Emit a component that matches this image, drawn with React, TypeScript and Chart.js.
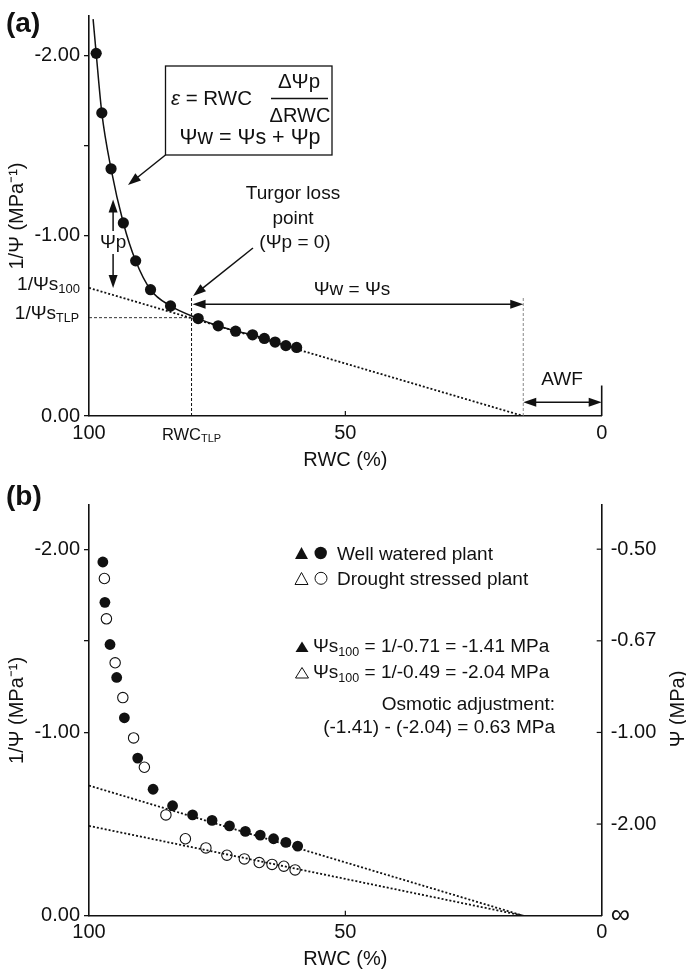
import React, { useEffect, useRef } from 'react';
import { Chart, registerables } from 'chart.js';

Chart.register(...registerables);

const FAMILY = '"Liberation Sans", Arial, Helvetica, sans-serif';
const INK = '#111111';

// ---------- Panel (a): pressure–volume curve ----------
const A_RWC = [98.6, 97.5, 95.7, 93.3, 90.9, 88.0, 84.1, 78.7, 74.8, 71.4, 68.1, 65.8, 63.7, 61.6, 59.5];
const A_INV_PSI = [-2.01, -1.68, -1.37, -1.07, -0.86, -0.70, -0.61, -0.54, -0.5, -0.47, -0.45, -0.43, -0.41, -0.39, -0.38];
const A_CURVE_START_RWC = 99.2;
const A_CURVE_START_INV = -2.2;
const A_TLP_RWC = 80.0;
const A_TLP_INV = -0.545;
const A_INV_S100 = -0.71;
const X_INTERCEPT = 15.3;

// ---------- Panel (b): well watered vs drought stressed ----------
const WW_RWC = [97.3, 96.9, 95.9, 94.6, 93.1, 90.5, 87.5, 83.7, 79.8, 76.0, 72.6, 69.5, 66.6, 64.0, 61.6, 59.3];
const WW_INV = [-1.93, -1.71, -1.48, -1.3, -1.08, -0.86, -0.69, -0.6, -0.55, -0.52, -0.49, -0.46, -0.44, -0.42, -0.4, -0.38];
const DS_RWC = [97.0, 96.6, 94.9, 93.4, 91.3, 89.2, 85.0, 81.2, 77.2, 73.1, 69.7, 66.8, 64.3, 62.0, 59.8];
const DS_INV = [-1.84, -1.62, -1.38, -1.19, -0.97, -0.81, -0.55, -0.42, -0.37, -0.33, -0.31, -0.29, -0.28, -0.27, -0.25];
const WW_INV_S100 = -0.71;
const DS_INV_S100 = -0.49;
const TRIANGLE_RWC = 102.3;

// ---------- ticks ----------
const X_TICKS = [100, 50, 0];
const A_Y_TICKS = [-2, -1.5, -1, 0];
const B_Y_TICKS = [-2, -1.5, -1, 0];
const B_Y2_TICKS = [-2, -1.5, -1, -0.5, 0];

const TICK_SIZE = 20;
const TEXT_SIZE = 19;

type Seg = { t: string; sub?: boolean; italic?: boolean };

function rich(
  ctx: CanvasRenderingContext2D,
  segs: Seg[],
  x: number,
  y: number,
  align: 'left' | 'center' | 'right',
  size: number,
  subSize: number,
  subDy: number
) {
  ctx.save();
  ctx.fillStyle = INK;
  ctx.textBaseline = 'alphabetic';
  ctx.textAlign = 'left';
  const fontOf = (s: Seg) => `${s.italic ? 'italic ' : ''}${s.sub ? subSize : size}px ${FAMILY}`;
  const ws = segs.map((s) => {
    ctx.font = fontOf(s);
    return ctx.measureText(s.t).width;
  });
  const total = ws.reduce((a, b) => a + b, 0);
  let cx = align === 'left' ? x : align === 'center' ? x - total / 2 : x - total;
  segs.forEach((s, i) => {
    ctx.font = fontOf(s);
    ctx.fillText(s.t, cx, y + (s.sub ? subDy : 0));
    cx += ws[i];
  });
  ctx.restore();
}

function text(
  ctx: CanvasRenderingContext2D,
  s: string,
  x: number,
  y: number,
  align: CanvasTextAlign,
  size: number,
  bold = false
) {
  ctx.save();
  ctx.fillStyle = INK;
  ctx.font = `${bold ? 'bold ' : ''}${size}px ${FAMILY}`;
  ctx.textAlign = align;
  ctx.textBaseline = 'alphabetic';
  ctx.fillText(s, x, y);
  ctx.restore();
}

function head(ctx: CanvasRenderingContext2D, tx: number, ty: number, fx: number, fy: number, len: number, half: number) {
  const a = Math.atan2(ty - fy, tx - fx);
  ctx.beginPath();
  ctx.moveTo(tx, ty);
  ctx.lineTo(tx - len * Math.cos(a) + half * Math.sin(a), ty - len * Math.sin(a) - half * Math.cos(a));
  ctx.lineTo(tx - len * Math.cos(a) - half * Math.sin(a), ty - len * Math.sin(a) + half * Math.cos(a));
  ctx.closePath();
  ctx.fill();
}

function arrow(
  ctx: CanvasRenderingContext2D,
  x1: number,
  y1: number,
  x2: number,
  y2: number,
  both = false,
  len = 13,
  half = 4.5,
  width = 1.5
) {
  ctx.save();
  ctx.strokeStyle = INK;
  ctx.fillStyle = INK;
  ctx.lineWidth = width;
  ctx.setLineDash([]);
  const a = Math.atan2(y2 - y1, x2 - x1);
  const sx = both ? x1 + (len - 3) * Math.cos(a) : x1;
  const sy = both ? y1 + (len - 3) * Math.sin(a) : y1;
  ctx.beginPath();
  ctx.moveTo(sx, sy);
  ctx.lineTo(x2 - (len - 3) * Math.cos(a), y2 - (len - 3) * Math.sin(a));
  ctx.stroke();
  head(ctx, x2, y2, x1, y1, len, half);
  if (both) head(ctx, x1, y1, x2, y2, len, half);
  ctx.restore();
}

function line(
  ctx: CanvasRenderingContext2D,
  x1: number,
  y1: number,
  x2: number,
  y2: number,
  dash: number[],
  color: string,
  width: number
) {
  ctx.save();
  ctx.strokeStyle = color;
  ctx.lineWidth = width;
  ctx.setLineDash(dash);
  ctx.beginPath();
  ctx.moveTo(x1, y1);
  ctx.lineTo(x2, y2);
  ctx.stroke();
  ctx.restore();
}

function triangle(ctx: CanvasRenderingContext2D, cx: number, top: number, w: number, h: number, filled: boolean) {
  ctx.save();
  ctx.beginPath();
  ctx.moveTo(cx, top);
  ctx.lineTo(cx + w / 2, top + h);
  ctx.lineTo(cx - w / 2, top + h);
  ctx.closePath();
  if (filled) {
    ctx.fillStyle = INK;
    ctx.fill();
  } else {
    ctx.strokeStyle = INK;
    ctx.lineWidth = 1;
    ctx.stroke();
  }
  ctx.restore();
}

function circle(ctx: CanvasRenderingContext2D, cx: number, cy: number, r: number, filled: boolean) {
  ctx.save();
  ctx.beginPath();
  ctx.arc(cx, cy, r, 0, Math.PI * 2);
  if (filled) {
    ctx.fillStyle = INK;
    ctx.fill();
  } else {
    ctx.strokeStyle = INK;
    ctx.lineWidth = 1;
    ctx.stroke();
  }
  ctx.restore();
}

const fmtLeft = (v: number | string) => {
  const n = Number(v);
  if (Math.abs(n + 1.5) < 1e-9) return '';
  return (Math.abs(n) < 1e-9 ? 0 : n).toFixed(2);
};

function yScale(min: number, ticks: number[], titlePad: number) {
  return {
    type: 'linear' as const,
    position: 'left' as const,
    min,
    max: 0,
    reverse: true,
    afterBuildTicks: (s: any) => {
      s.ticks = ticks.map((value) => ({ value }));
    },
    afterFit: (s: any) => {
      s.width = 89;
    },
    ticks: {
      callback: fmtLeft,
      color: INK,
      font: { family: FAMILY, size: TICK_SIZE },
      padding: 4,
      autoSkip: false,
    },
    grid: { display: true, drawOnChartArea: false, drawTicks: true, tickLength: 5, color: INK, lineWidth: 1.3 },
    border: { display: true, color: INK, width: 1.6 },
    title: {
      display: true,
      text: '1/Ψ (MPa⁻¹)',
      color: INK,
      font: { family: FAMILY, size: TICK_SIZE },
      padding: { top: titlePad, bottom: 0 },
    },
  };
}

function xScale(height: number, labelPad: number, titlePad: number) {
  return {
    type: 'linear' as const,
    min: 0,
    max: 100,
    reverse: true,
    afterBuildTicks: (s: any) => {
      s.ticks = X_TICKS.map((value) => ({ value }));
    },
    afterFit: (s: any) => {
      s.height = height;
    },
    ticks: {
      callback: (v: number | string) => String(v),
      color: INK,
      font: { family: FAMILY, size: TICK_SIZE },
      padding: labelPad,
      maxRotation: 0,
      autoSkip: false,
    },
    grid: { display: true, drawOnChartArea: false, drawTicks: false, color: INK },
    border: { display: true, color: INK, width: 1.6 },
    title: {
      display: true,
      text: 'RWC (%)',
      color: INK,
      font: { family: FAMILY, size: TICK_SIZE },
      padding: { top: 0, bottom: titlePad },
    },
  };
}

const annotA = {
  id: 'annotA',
  beforeDatasetsDraw(chart: any) {
    const ctx = chart.ctx as CanvasRenderingContext2D;
    const X = (v: number) => chart.scales.x.getPixelForValue(v);
    const Y = (v: number) => chart.scales.y.getPixelForValue(v);
    line(ctx, X(100), Y(A_TLP_INV), X(A_TLP_RWC), Y(A_TLP_INV), [3, 2], '#333', 1);
    line(ctx, X(A_TLP_RWC), Y(0), X(A_TLP_RWC), Y(-0.66), [3, 2], INK, 1);
    line(ctx, X(X_INTERCEPT), Y(0), X(X_INTERCEPT), Y(-0.66), [3, 2], '#888', 1);
  },
  afterDraw(chart: any) {
    const ctx = chart.ctx as CanvasRenderingContext2D;
    const X = (v: number) => chart.scales.x.getPixelForValue(v);
    const Y = (v: number) => chart.scales.y.getPixelForValue(v);

    text(ctx, '(a)', 6, 32, 'left', 28, true);

    // equation box
    ctx.save();
    ctx.strokeStyle = INK;
    ctx.lineWidth = 1.3;
    ctx.strokeRect(165.5, 66, 166.5, 89);
    ctx.restore();
    rich(ctx, [{ t: 'ε', italic: true }, { t: ' = RWC' }], 171, 105, 'left', 20.5, 12, 3);
    text(ctx, 'ΔΨp', 299, 88, 'center', 20.5);
    line(ctx, 271, 98.5, 328, 98.5, [], INK, 1.4);
    text(ctx, 'ΔRWC', 300, 122, 'center', 20);
    text(ctx, 'Ψw = Ψs + Ψp', 250, 144, 'center', 21.5);
    arrow(ctx, 165.5, 155, 128, 185);

    // Ψp bracket
    const px = X(95.3);
    arrow(ctx, px, 231, px, Y(-1.2));
    arrow(ctx, px, 254, px, Y(A_INV_S100));
    text(ctx, 'Ψp', px, 248, 'center', TEXT_SIZE);

    // turgor loss point
    text(ctx, 'Turgor loss', 293, 199, 'center', TEXT_SIZE);
    text(ctx, 'point', 293, 223.5, 'center', TEXT_SIZE);
    text(ctx, '(Ψp = 0)', 295, 248, 'center', TEXT_SIZE);
    arrow(ctx, 253, 248, X(A_TLP_RWC) + 1.5, Y(-0.66) - 1);

    // Ψw = Ψs span
    arrow(ctx, X(A_TLP_RWC) + 1, Y(-0.62), X(X_INTERCEPT), Y(-0.62), true);
    text(ctx, 'Ψw = Ψs', 352, 295, 'center', TEXT_SIZE);

    // AWF
    arrow(ctx, X(X_INTERCEPT), Y(-0.076), X(0), Y(-0.076), true);
    line(ctx, X(0), Y(0), X(0), Y(-0.169), [], INK, 1.6);
    text(ctx, 'AWF', 562, 385, 'center', TEXT_SIZE);

    // special axis labels
    rich(ctx, [{ t: '1/Ψs' }, { t: '100', sub: true }], 80, Y(A_INV_S100) + 2.5, 'right', TEXT_SIZE, 13, 2.5);
    rich(ctx, [{ t: '1/Ψs' }, { t: 'TLP', sub: true }], 79, Y(A_TLP_INV) + 1.5, 'right', TEXT_SIZE, 12.5, 3);
    rich(ctx, [{ t: 'RWC' }, { t: 'TLP', sub: true }], X(A_TLP_RWC), 440, 'center', 16.5, 11, 2);

    // inward tick at 50
    line(ctx, X(50), Y(0), X(50), Y(0) - 5, [], INK, 1.2);
  },
};

const annotB = {
  id: 'annotB',
  afterDraw(chart: any) {
    const ctx = chart.ctx as CanvasRenderingContext2D;
    const X = (v: number) => chart.scales.x.getPixelForValue(v);
    const Y = (v: number) => chart.scales.y.getPixelForValue(v);
    const right = chart.chartArea.right;

    text(ctx, '(b)', 6, 25, 'left', 28, true);

    // legend
    triangle(ctx, 301.5, 67, 13, 12, true);
    circle(ctx, 320.7, 73, 6.2, true);
    text(ctx, 'Well watered plant', 337, 79.5, 'left', TEXT_SIZE);
    triangle(ctx, 301.5, 92.5, 13, 12, false);
    circle(ctx, 321, 98.3, 6, false);
    text(ctx, 'Drought stressed plant', 337, 105, 'left', TEXT_SIZE);

    triangle(ctx, 302, 161.5, 13, 10.5, true);
    rich(ctx, [{ t: 'Ψs' }, { t: '100', sub: true }, { t: ' = 1/-0.71 = -1.41 MPa' }], 313, 172, 'left', TEXT_SIZE, 12.5, 3.5);
    triangle(ctx, 302, 187.5, 13, 10.5, false);
    rich(ctx, [{ t: 'Ψs' }, { t: '100', sub: true }, { t: ' = 1/-0.49 = -2.04 MPa' }], 313, 198, 'left', TEXT_SIZE, 12.5, 3.5);
    text(ctx, 'Osmotic adjustment:', 555, 230, 'right', TEXT_SIZE);
    text(ctx, '(-1.41) - (-2.04) = 0.63 MPa', 555, 253, 'right', TEXT_SIZE);

    // right axis title
    ctx.save();
    ctx.translate(678, 229);
    ctx.rotate(-Math.PI / 2);
    ctx.fillStyle = INK;
    ctx.font = `${TICK_SIZE}px ${FAMILY}`;
    ctx.textAlign = 'center';
    ctx.textBaseline = 'middle';
    ctx.fillText('Ψ (MPa)', 0, 0);
    ctx.restore();

    // inward ticks on right axis and x axis
    B_Y2_TICKS.forEach((v) => {
      if (v === 0) return;
      line(ctx, right, Y(v), right - 5, Y(v), [], INK, 1.2);
    });
    line(ctx, X(50), Y(0), X(50), Y(0) - 5, [], INK, 1.2);
  },
};

function configA(): any {
  const points = A_RWC.map((x, i) => ({ x, y: A_INV_PSI[i] }));
  const curve = [{ x: A_CURVE_START_RWC, y: A_CURVE_START_INV }, ...points];
  return {
    type: 'scatter',
    data: {
      datasets: [
        {
          label: 'Measurements',
          data: points,
          showLine: false,
          pointRadius: 5.6,
          pointHoverRadius: 5.6,
          pointBackgroundColor: INK,
          backgroundColor: INK,
          pointBorderWidth: 0,
          borderColor: INK,
        },
        {
          label: 'Fitted curve',
          data: curve,
          showLine: true,
          pointRadius: 0,
          borderColor: INK,
          borderWidth: 1.5,
          cubicInterpolationMode: 'monotone',
          fill: false,
        },
        {
          label: 'Osmotic line',
          data: [
            { x: 100, y: A_INV_S100 },
            { x: X_INTERCEPT, y: 0 },
          ],
          showLine: true,
          pointRadius: 0,
          borderColor: INK,
          borderWidth: 1.8,
          borderDash: [2, 2],
          fill: false,
        },
      ],
    },
    options: {
      responsive: false,
      maintainAspectRatio: false,
      animation: false,
      devicePixelRatio: 1,
      events: [],
      layout: { padding: { left: 0, right: 84.3, top: 8, bottom: 0 } },
      plugins: { legend: { display: false }, tooltip: { enabled: false }, title: { display: false } },
      scales: {
        x: xScale(64, 5, 8),
        y: yScale(-2.217, A_Y_TICKS, 5),
      },
    },
    plugins: [annotA],
  };
}

function configB(): any {
  const ww = WW_RWC.map((x, i) => ({ x, y: WW_INV[i] }));
  const ds = DS_RWC.map((x, i) => ({ x, y: DS_INV[i] }));
  return {
    type: 'scatter',
    data: {
      datasets: [
        {
          label: 'Well watered plant',
          data: ww,
          showLine: false,
          pointRadius: 5.4,
          pointBackgroundColor: INK,
          backgroundColor: INK,
          pointBorderWidth: 0,
          borderColor: INK,
        },
        {
          label: 'Drought stressed plant',
          data: ds,
          showLine: false,
          pointRadius: 5.2,
          pointBackgroundColor: 'rgba(0,0,0,0)',
          backgroundColor: 'rgba(0,0,0,0)',
          pointBorderColor: INK,
          borderColor: INK,
          pointBorderWidth: 1.1,
        },
        {
          label: 'Well watered 1/Ψs100',
          data: [{ x: TRIANGLE_RWC, y: WW_INV_S100 }],
          showLine: false,
          pointStyle: 'triangle',
          pointRadius: 7.5,
          pointBackgroundColor: INK,
          pointBorderColor: INK,
          pointBorderWidth: 0,
          clip: false,
        },
        {
          label: 'Drought stressed 1/Ψs100',
          data: [{ x: TRIANGLE_RWC, y: DS_INV_S100 }],
          showLine: false,
          pointStyle: 'triangle',
          pointRadius: 7.5,
          pointBackgroundColor: '#ffffff',
          pointBorderColor: INK,
          pointBorderWidth: 1,
          clip: false,
        },
        {
          label: 'Well watered line',
          data: [
            { x: 100, y: WW_INV_S100 },
            { x: X_INTERCEPT, y: 0 },
          ],
          showLine: true,
          pointRadius: 0,
          borderColor: INK,
          borderWidth: 1.8,
          borderDash: [2, 2],
          fill: false,
        },
        {
          label: 'Drought stressed line',
          data: [
            { x: 100, y: DS_INV_S100 },
            { x: X_INTERCEPT, y: 0 },
          ],
          showLine: true,
          pointRadius: 0,
          borderColor: INK,
          borderWidth: 1.8,
          borderDash: [2, 2],
          fill: false,
        },
      ],
    },
    options: {
      responsive: false,
      maintainAspectRatio: false,
      animation: false,
      devicePixelRatio: 1,
      events: [],
      layout: { padding: { left: 0, right: 0, top: 23, bottom: 0 } },
      plugins: { legend: { display: false }, tooltip: { enabled: false }, title: { display: false } },
      scales: {
        x: xScale(61.3, 5, 6),
        y: yScale(-2.24, B_Y_TICKS, 5),
        y1: {
          type: 'linear',
          position: 'right',
          min: -2.24,
          max: 0,
          reverse: true,
          afterBuildTicks: (s: any) => {
            s.ticks = B_Y2_TICKS.map((value) => ({ value }));
          },
          afterFit: (s: any) => {
            s.width = 84.3;
          },
          ticks: {
            callback: (v: number | string) => {
              const n = Number(v);
              return Math.abs(n) < 1e-9 ? '∞' : (1 / n).toFixed(2);
            },
            color: INK,
            font: (c: any) => ({ family: FAMILY, size: c.tick && Math.abs(c.tick.value) < 1e-9 ? 27 : TICK_SIZE }),
            padding: 9,
            autoSkip: false,
          },
          grid: { display: true, drawOnChartArea: false, drawTicks: false, color: INK },
          border: { display: true, color: INK, width: 1.6 },
          title: { display: false },
        },
      },
    },
    plugins: [annotB],
  };
}

export default function App() {
  const refA = useRef<HTMLCanvasElement>(null);
  const refB = useRef<HTMLCanvasElement>(null);
  useEffect(() => {
    const a = new Chart(refA.current as HTMLCanvasElement, configA());
    const b = new Chart(refB.current as HTMLCanvasElement, configB());
    return () => {
      a.destroy();
      b.destroy();
    };
  }, []);
  return (
    <div style={{ position: 'relative', width: 686, height: 977, background: '#fff', overflow: 'hidden' }}>
      <style>{'html,body{margin:0;padding:0;background:#fff}'}</style>
      <canvas
        ref={refA}
        width={686}
        height={480}
        style={{ position: 'absolute', left: 0, top: 0, width: 686, height: 480 }}
      />
      <canvas
        ref={refB}
        width={686}
        height={497}
        style={{ position: 'absolute', left: 0, top: 480, width: 686, height: 497 }}
      />
    </div>
  );
}
